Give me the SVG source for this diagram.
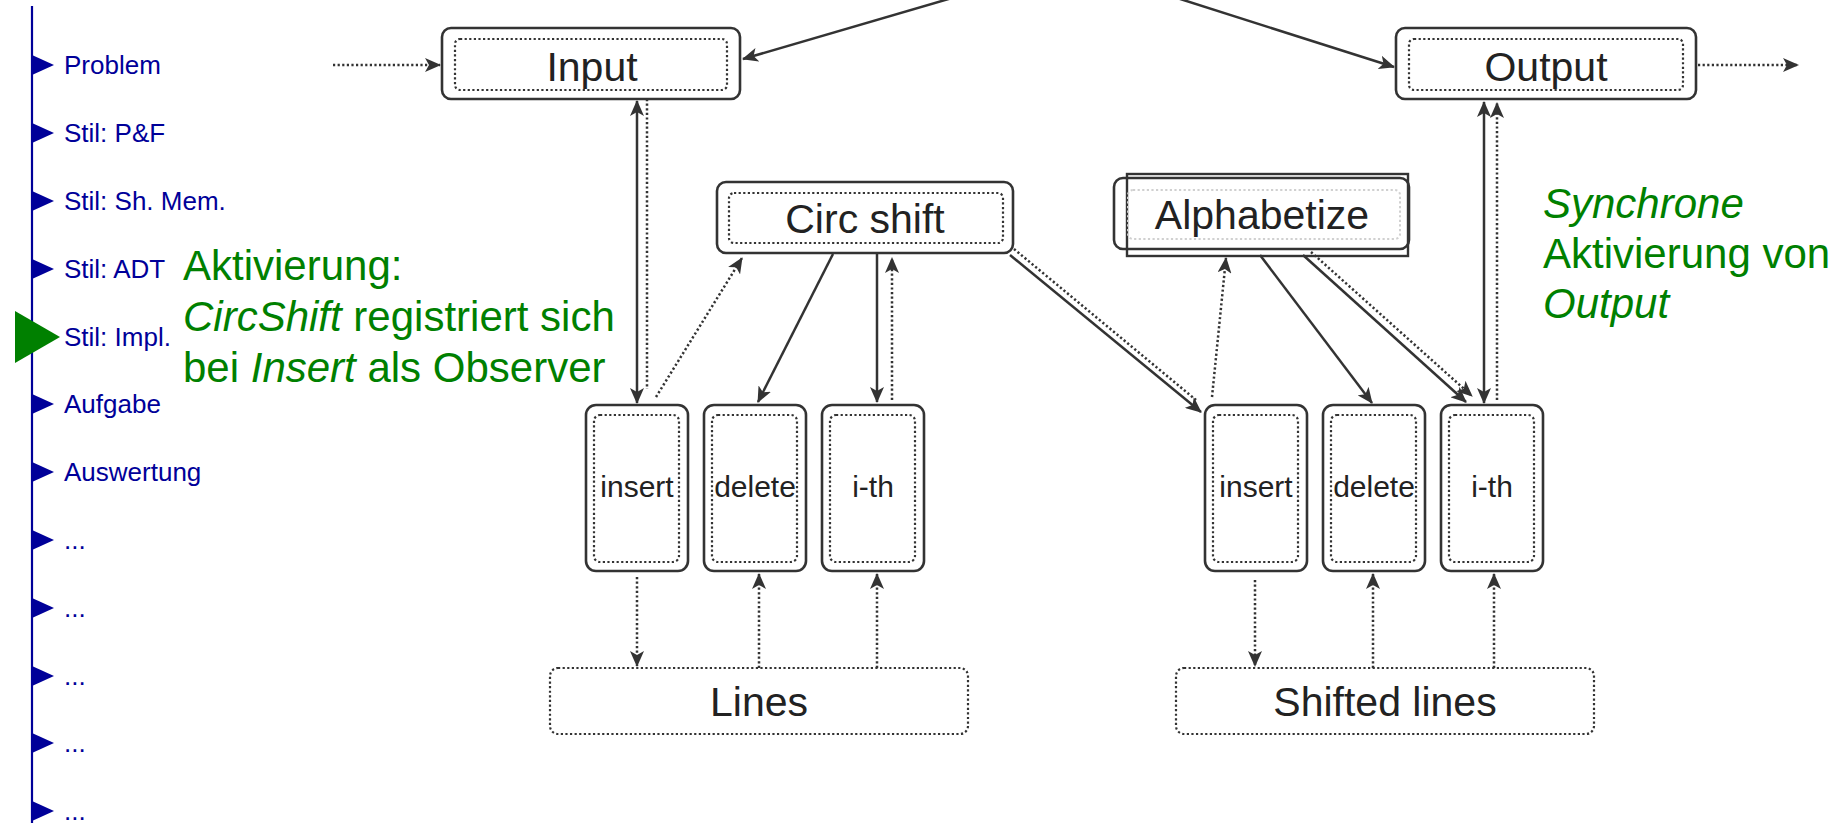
<svg xmlns="http://www.w3.org/2000/svg" width="1843" height="823" viewBox="0 0 1843 823">
<style>
.nav{font-family:"Liberation Sans",Arial,sans-serif;font-size:26px;fill:#000099}
.tri{fill:#000099}
.green{font-family:"Liberation Sans",Arial,sans-serif;font-size:42px;fill:#008000}
.outer{fill:#fff;stroke:#333;stroke-width:2.6}
.inner{fill:none;stroke:#333;stroke-width:2.2;stroke-dasharray:2.2 2.4}
.innerlight{fill:none;stroke:#d0d0d0;stroke-width:2;stroke-dasharray:2.2 2.4}
.lbl{font-family:"Liberation Sans",Arial,sans-serif;font-size:41px;fill:#222;text-anchor:middle}
.slbl{font-family:"Liberation Sans",Arial,sans-serif;font-size:30px;fill:#222;text-anchor:middle}
.sol{fill:none;stroke:#333;stroke-width:2.5}
.dot{fill:none;stroke:#333;stroke-width:2.5;stroke-dasharray:2.2 2.4}
.arr{marker-end:url(#ah)}
.arr2{marker-start:url(#ah);marker-end:url(#ah)}
</style>
<defs>
<marker id="ah" viewBox="0 0 16 14" refX="15" refY="7" markerWidth="16" markerHeight="14" markerUnits="userSpaceOnUse" orient="auto-start-reverse">
<path d="M0,0 L16,7 L0,14 L4,7 z" fill="#333"/>
</marker>
</defs>
<rect width="1843" height="823" fill="#fff"/>

<g id="nav">
<line x1="32" y1="6" x2="32" y2="823" stroke="#000099" stroke-width="2.2"/>
<polygon class="tri" points="32,55 54,65 32,75"/><text class="nav" x="64" y="74">Problem</text>
<polygon class="tri" points="32,123 54,133 32,143"/><text class="nav" x="64" y="142">Stil: P&amp;F</text>
<polygon class="tri" points="32,191 54,201 32,211"/><text class="nav" x="64" y="210">Stil: Sh. Mem.</text>
<polygon class="tri" points="32,259 54,269 32,279"/><text class="nav" x="64" y="278">Stil: ADT</text>
<polygon points="15,311 60,337 15,363" fill="#008000"/><text class="nav" x="64" y="346">Stil: Impl.</text>
<polygon class="tri" points="32,394 54,404 32,414"/><text class="nav" x="64" y="413">Aufgabe</text>
<polygon class="tri" points="32,462 54,472 32,482"/><text class="nav" x="64" y="481">Auswertung</text>
<polygon class="tri" points="32,530 54,540 32,550"/><text class="nav" x="64" y="549">...</text>
<polygon class="tri" points="32,598 54,608 32,618"/><text class="nav" x="64" y="617">...</text>
<polygon class="tri" points="32,666 54,676 32,686"/><text class="nav" x="64" y="685">...</text>
<polygon class="tri" points="32,733 54,743 32,753"/><text class="nav" x="64" y="752">...</text>
<polygon class="tri" points="32,801 54,811 32,821"/><text class="nav" x="64" y="820">...</text>
</g>

<g id="note-left">
<text class="green" x="183" y="280">Aktivierung:</text>
<text class="green" x="183" y="331"><tspan font-style="italic">CircShift</tspan> registriert sich</text>
<text class="green" x="183" y="382">bei <tspan font-style="italic">Insert</tspan> als Observer</text>
</g>
<g id="note-right">
<text class="green" x="1543" y="218" font-style="italic">Synchrone</text>
<text class="green" x="1543" y="268">Aktivierung von</text>
<text class="green" x="1543" y="318" font-style="italic">Output</text>
</g>

<g id="connectors">
<line class="dot arr" x1="333" y1="65" x2="440" y2="65"/>
<line class="dot arr" x1="1698" y1="65" x2="1798" y2="65"/>
<line class="sol arr" x1="952" y1="-2" x2="743" y2="59"/>
<line class="sol arr" x1="1177" y1="-2" x2="1394" y2="67"/>
<line class="sol arr2" x1="637" y1="101" x2="637" y2="403"/>
<line class="dot" x1="647" y1="99" x2="647" y2="389"/>
<line class="dot arr" x1="656" y1="397" x2="742" y2="258"/>
<line class="sol arr" x1="833" y1="254" x2="758" y2="402"/>
<line class="sol arr" x1="877" y1="254" x2="877" y2="402"/>
<line class="dot arr" x1="892" y1="400" x2="892" y2="258"/>
<line class="sol arr" x1="1010" y1="255" x2="1201" y2="412"/>
<line class="dot" x1="1014" y1="249" x2="1196" y2="400"/>
<line class="dot arr" x1="1212" y1="397" x2="1226" y2="258"/>
<line class="sol arr" x1="1260" y1="255" x2="1372" y2="403"/>
<line class="sol arr" x1="1303" y1="255" x2="1466" y2="402"/>
<line class="dot arr" x1="1311" y1="252" x2="1472" y2="396"/>
<line class="sol arr2" x1="1484" y1="102" x2="1484" y2="403"/>
<line class="dot arr" x1="1497" y1="400" x2="1497" y2="103"/>
<line class="dot arr" x1="637" y1="577" x2="637" y2="666"/>
<line class="dot arr" x1="759" y1="668" x2="759" y2="574"/>
<line class="dot arr" x1="877" y1="668" x2="877" y2="574"/>
<line class="dot arr" x1="1255" y1="580" x2="1255" y2="666"/>
<line class="dot arr" x1="1373" y1="668" x2="1373" y2="574"/>
<line class="dot arr" x1="1494" y1="668" x2="1494" y2="574"/>
</g>

<g id="input">
<rect class="outer" x="442" y="28" width="298" height="71" rx="9"/>
<rect class="inner" x="455" y="39" width="272" height="51" rx="5"/>
<text class="lbl" x="592" y="81">Input</text>
</g>
<g id="output">
<rect class="outer" x="1396" y="28" width="300" height="71" rx="9"/>
<rect class="inner" x="1409" y="39" width="274" height="51" rx="5"/>
<text class="lbl" x="1546" y="81">Output</text>
</g>
<g id="circshift">
<rect class="outer" x="717" y="182" width="296" height="71" rx="9"/>
<rect class="inner" x="729" y="193" width="274" height="50" rx="5"/>
<text class="lbl" x="865" y="233">Circ shift</text>
</g>
<g id="alphabetize">
<rect class="outer" x="1114" y="178" width="295" height="71" rx="9"/>
<rect x="1127" y="174" width="281" height="82" fill="none" stroke="#333" stroke-width="2.4"/>
<rect class="innerlight" x="1128" y="190" width="272" height="49" rx="5"/>
<text class="lbl" x="1262" y="229">Alphabetize</text>
</g>

<g id="insert1">
<rect class="outer" x="586" y="405" width="102" height="166" rx="10"/>
<rect class="inner" x="594" y="415" width="85" height="147" rx="6"/>
<text class="slbl" x="637" y="497">insert</text>
</g>
<g id="delete1">
<rect class="outer" x="704" y="405" width="102" height="166" rx="10"/>
<rect class="inner" x="712" y="415" width="85" height="147" rx="6"/>
<text class="slbl" x="755" y="497">delete</text>
</g>
<g id="ith1">
<rect class="outer" x="822" y="405" width="102" height="166" rx="10"/>
<rect class="inner" x="830" y="415" width="85" height="147" rx="6"/>
<text class="slbl" x="873" y="497">i-th</text>
</g>
<g id="insert2">
<rect class="outer" x="1205" y="405" width="102" height="166" rx="10"/>
<rect class="inner" x="1213" y="415" width="85" height="147" rx="6"/>
<text class="slbl" x="1256" y="497">insert</text>
</g>
<g id="delete2">
<rect class="outer" x="1323" y="405" width="102" height="166" rx="10"/>
<rect class="inner" x="1331" y="415" width="85" height="147" rx="6"/>
<text class="slbl" x="1374" y="497">delete</text>
</g>
<g id="ith2">
<rect class="outer" x="1441" y="405" width="102" height="166" rx="10"/>
<rect class="inner" x="1449" y="415" width="85" height="147" rx="6"/>
<text class="slbl" x="1492" y="497">i-th</text>
</g>

<g id="lines">
<rect class="inner" x="550" y="668" width="418" height="66" rx="8" fill="#fff"/>
<text class="lbl" x="759" y="716">Lines</text>
</g>
<g id="shiftedlines">
<rect class="inner" x="1176" y="668" width="418" height="66" rx="8" fill="#fff"/>
<text class="lbl" x="1385" y="716">Shifted lines</text>
</g>
</svg>
